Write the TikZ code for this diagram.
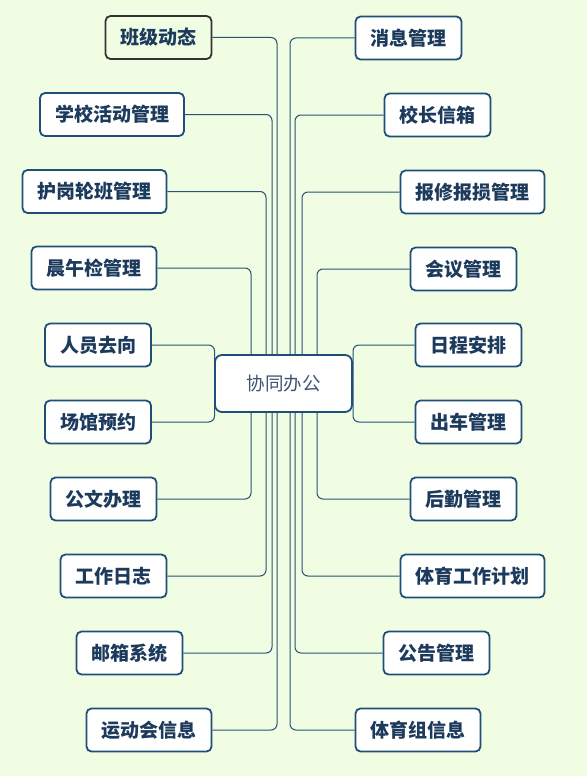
\documentclass[tikz,border=0pt]{standalone}
\usepackage{fontspec}
\setmainfont{Noto Sans CJK SC}
\usetikzlibrary{backgrounds}

\definecolor{bgcol}{RGB}{241,253,226}
\definecolor{boxblue}{RGB}{31,78,121}
\definecolor{textblue}{RGB}{28,58,92}
\definecolor{hubtext}{RGB}{62,84,112}
\definecolor{linkcol}{RGB}{40,82,118}

\begin{document}
\begin{tikzpicture}[x=1pt, y=-1pt]
    \tikzstyle{topic} = [draw=boxblue, line width=1.8pt, rounded corners=5pt, fill=white, text=textblue, font=\fontsize{19}{21}\selectfont\bfseries, inner xsep=15pt, minimum height=43pt];
    \tikzstyle{current} = [topic, draw=black!80, fill=bgcol];
    \tikzstyle{hub} = [draw=boxblue, line width=1.8pt, rounded corners=7pt, fill=white, text=hubtext, font=\fontsize{18.5}{20}\selectfont, minimum width=137pt, minimum height=57pt];
    \tikzstyle{link} = [draw=linkcol, line width=1pt, rounded corners=6pt];

    \useasboundingbox (0,0) rectangle (587,776);

    \node[hub] at (283.5, 383.5) (hub) {协同办公};

    \node[current] at (158.5, 37.5) (l1) {班级动态};
    \node[topic] at (112, 114.5) (l2) {学校活动管理};
    \node[topic] at (94.5, 191.5) (l3) {护岗轮班管理};
    \node[topic] at (94, 268) (l4) {晨午检管理};
    \node[topic] at (98, 345) (l5) {人员去向};
    \node[topic] at (98, 422) (l6) {场馆预约};
    \node[topic] at (103.5, 499) (l7) {公文办理};
    \node[topic] at (113.5, 576) (l8) {工作日志};
    \node[topic] at (129.5, 653) (l9) {邮箱系统};
    \node[topic] at (149, 730) (l10) {运动会信息};

    \node[topic] at (408.5, 38) (r1) {消息管理};
    \node[topic] at (437.5, 115) (r2) {校长信箱};
    \node[topic] at (472.5, 192) (r3) {报修报损管理};
    \node[topic] at (463.5, 269) (r4) {会议管理};
    \node[topic] at (468.5, 345) (r5) {日程安排};
    \node[topic] at (468.5, 422) (r6) {出车管理};
    \node[topic] at (463.5, 499) (r7) {后勤管理};
    \node[topic] at (472.5, 576) (r8) {体育工作计划};
    \node[topic] at (436.5, 653) (r9) {公告管理};
    \node[topic] at (418, 730) (r10) {体育组信息};

    \begin{scope}[on background layer]
        \fill[bgcol] (0,0) rectangle (587,776);

        \draw[link] (l1.east) -| ([xshift=-6.5pt]hub.center);
        \draw[link] (l2.east) -| ([xshift=-11.5pt]hub.center);
        \draw[link] (l3.east) -| ([xshift=-17.5pt]hub.center);
        \draw[link] (l4.east) -| ([xshift=-32.5pt]hub.center);
        \draw[link] (l5.east) -| ([xshift=-69pt]hub.center);
        \draw[link] (l6.east) -| ([xshift=-69pt]hub.center);
        \draw[link] (l7.east) -| ([xshift=-32.5pt]hub.center);
        \draw[link] (l8.east) -| ([xshift=-17.5pt]hub.center);
        \draw[link] (l9.east) -| ([xshift=-11.5pt]hub.center);
        \draw[link] (l10.east) -| ([xshift=-6.5pt]hub.center);

        \draw[link] (r1.west) -| ([xshift=6.5pt]hub.center);
        \draw[link] (r2.west) -| ([xshift=11.5pt]hub.center);
        \draw[link] (r3.west) -| ([xshift=18.5pt]hub.center);
        \draw[link] (r4.west) -| ([xshift=33.5pt]hub.center);
        \draw[link] (r5.west) -| ([xshift=69.5pt]hub.center);
        \draw[link] (r6.west) -| ([xshift=69.5pt]hub.center);
        \draw[link] (r7.west) -| ([xshift=33.5pt]hub.center);
        \draw[link] (r8.west) -| ([xshift=18.5pt]hub.center);
        \draw[link] (r9.west) -| ([xshift=11.5pt]hub.center);
        \draw[link] (r10.west) -| ([xshift=6.5pt]hub.center);
    \end{scope}
\end{tikzpicture}
\end{document}
